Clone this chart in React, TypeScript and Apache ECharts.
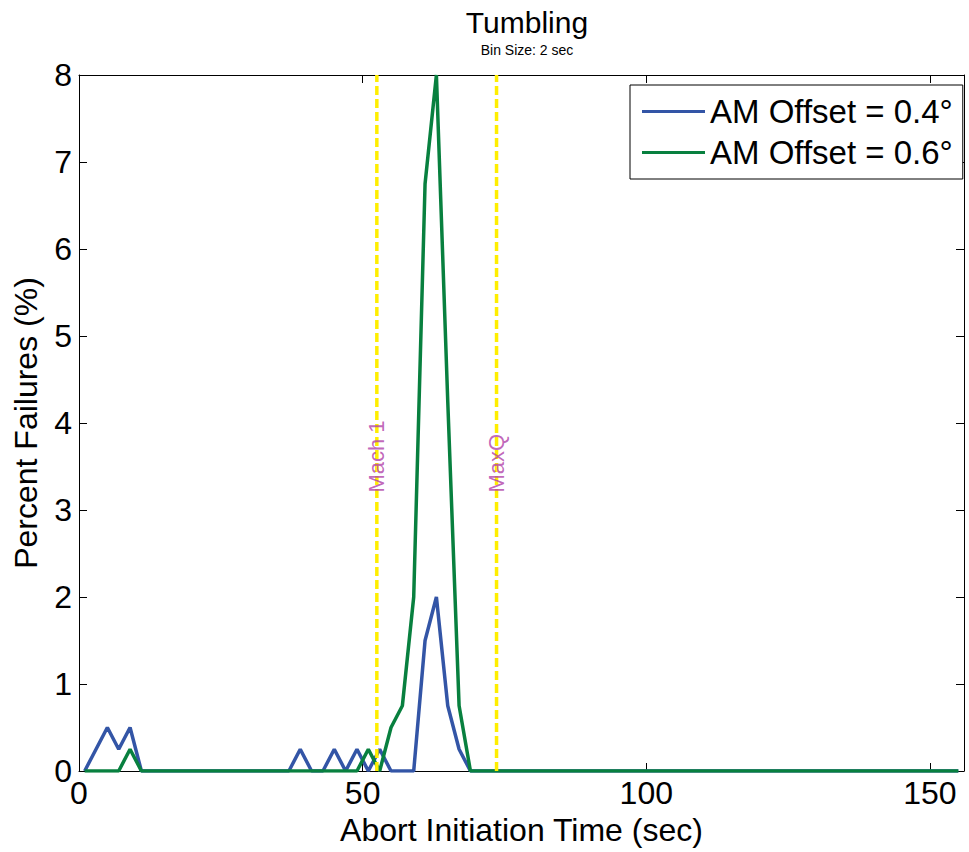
import React, { useEffect, useRef } from "react";
import * as echarts from "echarts";

// Bin centres (sec), bin size 2 sec
const binCenters = [
  1, 3, 5, 7, 9, 11, 13, 15, 17, 19,
  21, 23, 25, 27, 29, 31, 33, 35, 37, 39,
  41, 43, 45, 47, 49, 51, 53, 55, 57, 59,
  61, 63, 65, 67, 69, 71, 73, 75, 77, 79,
  81, 83, 85, 87, 89, 91, 93, 95, 97, 99,
  101, 103, 105, 107, 109, 111, 113, 115, 117, 119,
  121, 123, 125, 127, 129, 131, 133, 135, 137, 139,
  141, 143, 145, 147, 149, 151, 153, 155,
];

// Percent failures, AM Offset = 0.4°
const offset04 = [
  0, 0.25, 0.5, 0.25, 0.5, 0, 0, 0, 0, 0,
  0, 0, 0, 0, 0, 0, 0, 0, 0, 0.25,
  0, 0, 0.25, 0, 0.25, 0, 0.25, 0, 0, 0,
  1.5, 2, 0.75, 0.25, 0, 0, 0, 0, 0, 0,
  0, 0, 0, 0, 0, 0, 0, 0, 0, 0,
  0, 0, 0, 0, 0, 0, 0, 0, 0, 0,
  0, 0, 0, 0, 0, 0, 0, 0, 0, 0,
  0, 0, 0, 0, 0, 0, 0, 0,
];

// Percent failures, AM Offset = 0.6°
const offset06 = [
  0, 0, 0, 0, 0.25, 0, 0, 0, 0, 0,
  0, 0, 0, 0, 0, 0, 0, 0, 0, 0,
  0, 0, 0, 0, 0, 0.25, 0, 0.5, 0.75, 2,
  6.75, 8, 4.25, 0.75, 0, 0, 0, 0, 0, 0,
  0, 0, 0, 0, 0, 0, 0, 0, 0, 0,
  0, 0, 0, 0, 0, 0, 0, 0, 0, 0,
  0, 0, 0, 0, 0, 0, 0, 0, 0, 0,
  0, 0, 0, 0, 0, 0, 0, 0,
];

const seriesNames = ["AM Offset = 0.4°", "AM Offset = 0.6°"];
const eventNames = ["Mach 1", "MaxQ"];
const eventTimes = [52.5, 73.6];
const eventLabelY = [3.2, 3.2];

const X_MIN = 0;
const X_MAX = 156;
const X_INTERVAL = 50;
const Y_MIN = 0;
const Y_MAX = 8;
const Y_INTERVAL = 1;

const FONT = "'Liberation Sans', Arial, Helvetica, sans-serif";

export default function App() {
  const ref = useRef<HTMLDivElement>(null);

  useEffect(() => {
    document.body.style.margin = "0";
    const chart = echarts.init(ref.current!, null, { renderer: "svg" });

    const axisLine = { show: true, onZero: false, lineStyle: { color: "#000", width: 1 } };
    const axisTick = { show: true, inside: true, length: 8, lineStyle: { color: "#000", width: 1 } };

    const eventLineSeries = eventTimes.map((t, i) => ({
      name: eventNames[i],
      type: "line",
      data: [
        [t, Y_MIN],
        [t, Y_MAX],
      ],
      symbol: "none",
      silent: true,
      z: 3,
      lineStyle: { color: "#ffee00", width: 3.5, type: [9, 4] },
    }));

    chart.setOption({
      animation: false,
      backgroundColor: "#fff",
      textStyle: { fontFamily: FONT },
      title: {
        text: "Tumbling",
        subtext: "Bin Size: 2 sec",
        left: 522,
        top: 2,
        textAlign: "center",
        itemGap: 6,
        textStyle: { fontFamily: FONT, fontSize: 30, fontWeight: "normal", color: "#000" },
        subtextStyle: { fontFamily: FONT, fontSize: 14, color: "#000" },
      },
      legend: {
        data: seriesNames,
        orient: "vertical",
        left: 630,
        top: 85,
        padding: [10, 10, 10, 12],
        itemGap: 8,
        itemWidth: 63,
        itemHeight: 3,
        icon: "rect",
        borderColor: "#000",
        borderWidth: 1,
        backgroundColor: "#fff",
        textStyle: { fontFamily: FONT, fontSize: 33, color: "#000" },
      },
      grid: { left: 79, right: 5, top: 75, bottom: 81, containLabel: false },
      xAxis: [
        {
          type: "value",
          position: "bottom",
          min: X_MIN,
          max: X_MAX,
          interval: X_INTERVAL,
          axisLine,
          axisTick,
          splitLine: { show: false },
          axisLabel: {
            fontFamily: FONT,
            fontSize: 32,
            color: "#000",
            margin: 6,
            formatter: (v: number) => (v % X_INTERVAL === 0 ? String(v) : ""),
          },
          name: "Abort Initiation Time (sec)",
          nameLocation: "middle",
          nameGap: 43,
          nameTextStyle: { fontFamily: FONT, fontSize: 32, color: "#000" },
        },
        {
          type: "value",
          position: "top",
          min: X_MIN,
          max: X_MAX,
          interval: X_INTERVAL,
          axisLine,
          axisTick,
          splitLine: { show: false },
          axisLabel: { show: false },
        },
      ],
      yAxis: [
        {
          type: "value",
          position: "left",
          min: Y_MIN,
          max: Y_MAX,
          interval: Y_INTERVAL,
          axisLine,
          axisTick,
          splitLine: { show: false },
          axisLabel: { fontFamily: FONT, fontSize: 32, color: "#000", margin: 7 },
          name: "Percent Failures (%)",
          nameLocation: "middle",
          nameGap: 37,
          nameTextStyle: { fontFamily: FONT, fontSize: 32, color: "#000" },
        },
        {
          type: "value",
          position: "right",
          min: Y_MIN,
          max: Y_MAX,
          interval: Y_INTERVAL,
          axisLine,
          axisTick,
          splitLine: { show: false },
          axisLabel: { show: false },
        },
      ],
      series: [
        {
          name: seriesNames[0],
          type: "line",
          data: binCenters.map((x, i) => [x, offset04[i]]),
          symbol: "none",
          z: 2,
          lineStyle: { color: "#3355a6", width: 3.5 },
          itemStyle: { color: "#3355a6" },
        },
        {
          name: seriesNames[1],
          type: "line",
          data: binCenters.map((x, i) => [x, offset06[i]]),
          symbol: "none",
          z: 2,
          lineStyle: { color: "#08803f", width: 3.5 },
          itemStyle: { color: "#08803f" },
        },
        ...eventLineSeries,
        {
          name: "events",
          type: "scatter",
          data: eventTimes.map((t, i) => ({ value: [t, eventLabelY[i]], name: eventNames[i] })),
          symbolSize: 1,
          z: 4,
          silent: true,
          itemStyle: { color: "rgba(0,0,0,0)" },
          label: {
            show: true,
            position: "inside",
            rotate: 90,
            align: "left",
            verticalAlign: "middle",
            formatter: (p: any) => p.name,
            fontFamily: FONT,
            fontSize: 22,
            color: "#b040a8",
          },
        },
      ],
    });

    return () => {
      chart.dispose();
    };
  }, []);

  return <div ref={ref} style={{ width: 969, height: 852 }} />;
}
